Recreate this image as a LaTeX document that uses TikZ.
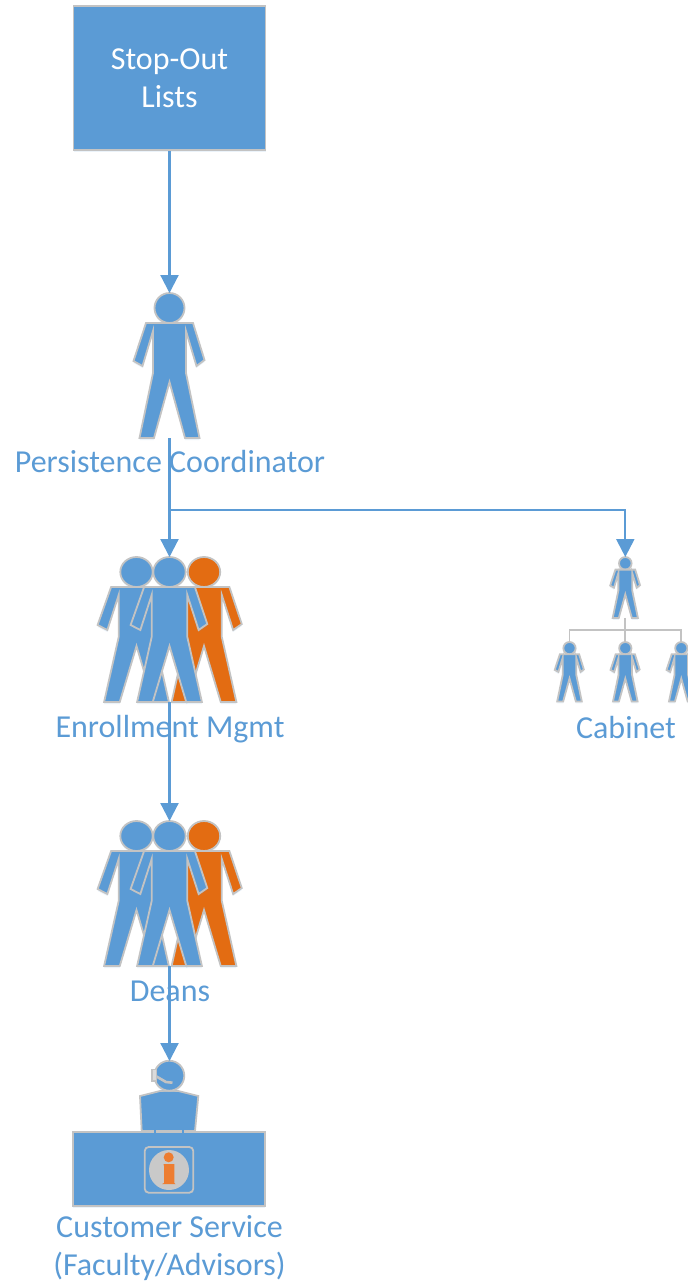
\documentclass[tikz,border=0pt]{standalone}
\usepackage{fontspec}
\setmainfont{Carlito}
\usetikzlibrary{arrows.meta,shadows}
\definecolor{figblue}{HTML}{5B9BD5}
\definecolor{figorange}{HTML}{E36C12}
\definecolor{figline}{HTML}{C3C3C3}
\definecolor{infoorange}{HTML}{ED7D31}
\tikzset{
  figure/.style={draw=figline,line width=1.8pt,line join=miter,
    drop shadow={shadow xshift=0pt,shadow yshift=-2pt,fill=figblue,opacity=.12}},
  label/.style={text=figblue,font=\fontsize{32}{38}\selectfont,align=center,inner sep=0pt},
  link/.style={draw=figblue,line width=2.2pt,-{Triangle[width=18pt,length=18pt]}},
  branch/.style={draw=figline,line width=1.8pt},
  pics/person/.style={code={
    \coordinate (-top) at (0,0);
    \coordinate (-foot) at (0,145);
    \path[figure,fill=#1] (0,15) circle (15);
    \path[figure,fill=#1] (-23.5,30) -- (23.5,30) -- (35,67) -- (27,73) -- (16.5,38)
      -- (16.5,80) -- (30,145) -- (15.5,145) -- (0,89) -- (-15.5,145) -- (-30,145)
      -- (-16.5,80) -- (-16.5,38) -- (-27,73) -- (-36,68) -- cycle;
  }}
}
\begin{document}
\begin{tikzpicture}[x=1pt,y=-1pt]
  \clip (0,0) rectangle (688,1285);
  \node[figure,fill=figblue,minimum width=192pt,minimum height=144pt,inner sep=0pt,
    text=white,font=\fontsize{32}{38}\selectfont,align=center] (lists) at (169.5,78) {Stop-Out\\Lists};

  \pic (coordinator) at (169.5,293) {person=figblue};
  \node[label] (coordinatorlabel) at (170,462) {Persistence Coordinator};

  \pic[xscale=1.08] (enrollleft) at (136.5,557) {person=figblue};
  \pic[xscale=1.08] (enrollright) at (204,557) {person=figorange};
  \pic[xscale=1.08] (enroll) at (169.5,557) {person=figblue};
  \node[label] (enrolllabel) at (170,729.5) {Enrollment Mgmt};

  \pic[xscale=1.08] (deansleft) at (136.5,821) {person=figblue};
  \pic[xscale=1.08] (deansright) at (204,821) {person=figorange};
  \pic[xscale=1.08] (deans) at (169.5,821) {person=figblue};
  \node[label] (deanslabel) at (170,991) {Deans};

  \pic[scale=.42] (cabinet) at (625.3,557) {person=figblue};
  \pic[scale=.41] (cabinetleft) at (569.5,642) {person=figblue};
  \pic[scale=.41] (cabinetmid) at (625.3,642) {person=figblue};
  \pic[scale=.41] (cabinetright) at (681.3,642) {person=figblue};
  \node[label] (cabinetlabel) at (626,727) {Cabinet};
  \coordinate (cabinetbar) at (625.3,630);
  \draw[branch] (cabinet-foot) -- (cabinetmid-top);
  \draw[branch] (cabinetleft-top) -- (cabinetleft-top |- cabinetbar)
    -- (cabinetright-top |- cabinetbar) -- (cabinetright-top);

  % service desk
  \path[figure,fill=figblue] (140,1096) -- (160,1091) -- (178.3,1091) -- (198.3,1096)
    -- (195,1131) -- (141.7,1131) -- cycle;
  \path[figure,fill=figblue] (169.3,1075.7) circle (15);
  \coordinate (agent) at (169.5,1061);
  \draw[figline,line width=1.8pt,fill=figline!60] (152,1069.5) rectangle (156.5,1081);
  \draw[figline,line width=2.6pt] (156.5,1076.5) -- (166,1082) -- (172.5,1082.7);
  \node[figure,fill=figblue,minimum width=192pt,minimum height=74pt,inner sep=0pt] (desk) at (169,1168.7) {};
  \draw[figblue,line width=1.8pt] (155,1130) -- (155,1133) (183,1130) -- (183,1133);
  \draw[figline,line width=1.8pt,rounded corners=4pt] (144.7,1147) rectangle (193.3,1192.7);
  \fill[figline!90!white] (169,1170) circle (20);
  \fill[infoorange] (168.7,1157.3) circle (5);
  \fill[infoorange] (163.5,1164) -- (174.3,1164) -- (174.3,1183) -- (175.5,1184) -- (162,1184)
    -- (164,1183) -- (164,1166) -- cycle;
  \node[label] (desklabel) at (169.5,1248.5) {Customer Service\\(Faculty/Advisors)};

  \begin{scope}
    \coordinate (split) at (169.5,510);
    \draw[link] (lists) -- (coordinator-top);
    \draw[link] (coordinator-foot) -- (enroll-top);
    \draw[link] (split) -- (split -| cabinet-top) -- (cabinet-top);
    \draw[link] (enroll-foot) -- (deans-top);
    \draw[link] (deans-foot) -- (agent);
  \end{scope}
\end{tikzpicture}
\end{document}
